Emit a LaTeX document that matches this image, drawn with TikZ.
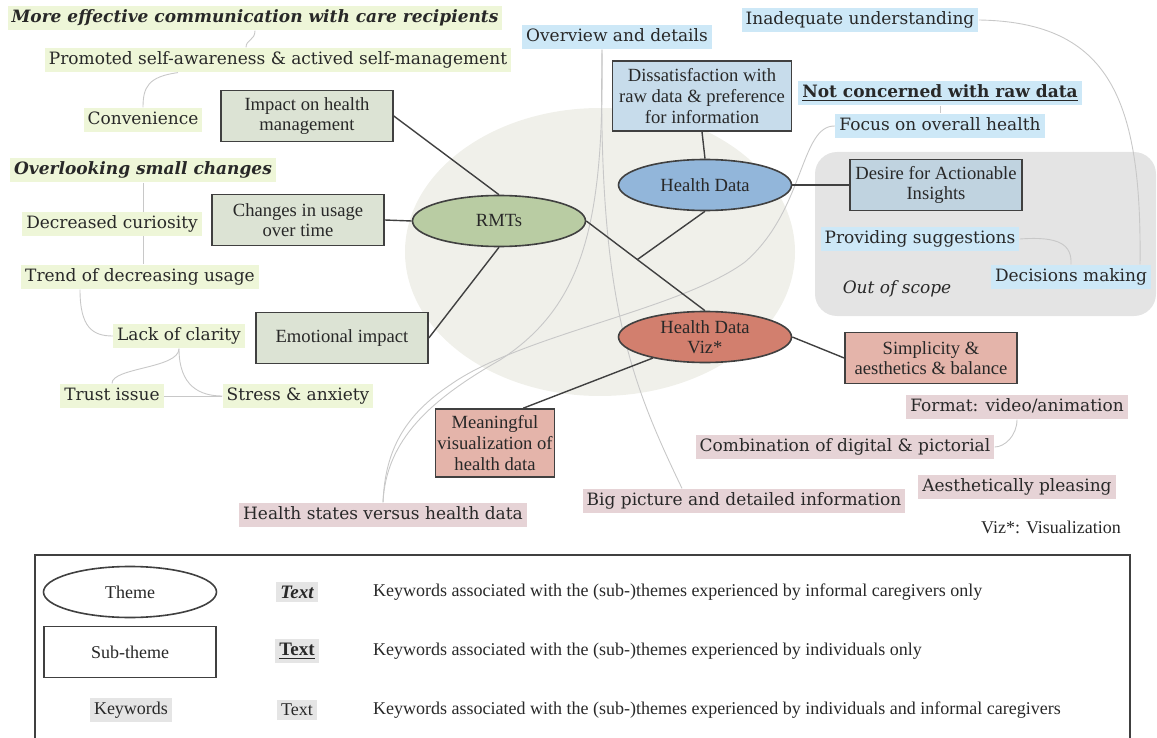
\documentclass[tikz,border=0pt]{standalone}
\usepackage{fontspec}
\setmainfont{Liberation Serif}
\newfontfamily\kwfont{DejaVu Serif}
\usetikzlibrary{shapes.geometric,calc}

\definecolor{inkgray}{RGB}{40,40,40}
\definecolor{edgegray}{RGB}{64,64,64}
\definecolor{threadgray}{RGB}{200,200,200}
\definecolor{cloudgray}{RGB}{240,240,234}
\definecolor{scopegray}{RGB}{228,228,228}
\definecolor{themegreen}{RGB}{185,204,163}
\definecolor{themeblue}{RGB}{146,182,218}
\definecolor{themered}{RGB}{210,127,110}
\definecolor{subgreen}{RGB}{220,227,212}
\definecolor{subblue}{RGB}{199,220,235}
\definecolor{subred}{RGB}{228,180,170}
\definecolor{kwgreenbg}{RGB}{238,246,216}
\definecolor{kwbluebg}{RGB}{205,232,247}
\definecolor{kwpinkbg}{RGB}{230,211,214}
\definecolor{kwgraybg}{RGB}{229,229,229}

\pgfdeclarelayer{back}
\pgfdeclarelayer{links}
\pgfsetlayers{back,links,main}

\begin{document}
\begin{tikzpicture}[
    x=0.5pt, y=-0.5pt,
    theme/.style={ellipse, draw=edgegray, line width=0.8pt, minimum width=86.5pt, minimum height=25.5pt,
        inner sep=0pt, align=center, text=inkgray, font=\fontsize{9.3}{10}\selectfont},
    subtheme/.style={rectangle, draw=edgegray, line width=0.8pt, minimum width=86pt, minimum height=25.5pt,
        inner sep=1pt, align=center, text=inkgray, font=\fontsize{9.3}{10.3}\selectfont},
    kw/.style={inner xsep=2pt, inner ysep=1.5pt, text height=7pt, text depth=2.2pt, text=inkgray,
        font=\kwfont\fontsize{8.5}{10}\selectfont},
    kwbi/.style={kw, font=\kwfont\fontsize{8.5}{10}\selectfont\bfseries\itshape},
    kwgreen/.style={kw, fill=kwgreenbg},
    kwblue/.style={kw, fill=kwbluebg},
    kwpink/.style={kw, fill=kwpinkbg},
    legtext/.style={text=inkgray, font=\fontsize{9}{10}\selectfont},
    link/.style={draw=edgegray, line width=0.7pt},
    thread/.style={draw=threadgray, line width=0.45pt},
]
\useasboundingbox (0,0) rectangle (1157,738);

% themes
\node[theme, fill=themegreen] (rmts) at (499,221) {RMTs};
\node[theme, fill=themeblue] (hd) at (705,185) {Health Data};
\node[theme, fill=themered] (viz) at (705,337) {Health Data\\Viz*};

% sub-themes
\node[subtheme, fill=subgreen] (impact) at (307,116) {Impact on health\\management};
\node[subtheme, fill=subgreen] (changes) at (298,220) {Changes in usage\\over time};
\node[subtheme, fill=subgreen] (emot) at (342,338) {Emotional impact};
\node[subtheme, fill=subblue, minimum width=89.5pt, minimum height=35pt] (dissat) at (702,96)
    {Dissatisfaction with\\raw data \& preference\\for information};
\node[subtheme, fill=subblue!90!gray] (desire) at (936,185) {Desire for Actionable\\Insights};
\node[subtheme, fill=subred] (simpl) at (931,358) {Simplicity \&\\aesthetics \& balance};
\node[subtheme, fill=subred, minimum width=58pt, minimum height=34pt] (meaning) at (495,443)
    {Meaningful\\visualization of\\health data};

% keywords, RMTs
\node[kwgreen, kwbi] (moreeff) at (255,18) {More effective communication with care recipients};
\node[kwgreen] (promoted) at (278,60) {Promoted self-awareness \& actived self-management};
\node[kwgreen] (conv) at (143,120) {Convenience};
\node[kwgreen, kwbi] (overlook) at (143,170) {Overlooking small changes};
\node[kwgreen] (curio) at (112,224) {Decreased curiosity};
\node[kwgreen] (trend) at (140,277) {Trend of decreasing usage};
\node[kwgreen] (lack) at (179,336) {Lack of clarity};
\node[kwgreen] (trust) at (112,396) {Trust issue};
\node[kwgreen] (stress) at (298,396) {Stress \& anxiety};

% keywords, health data
\node[kwblue] (overview) at (617,37) {Overview and details};
\node[kwblue] (inadeq) at (860,20) {Inadequate understanding};
\node[kwblue, font=\kwfont\fontsize{8.5}{10}\selectfont\bfseries] (notconc) at (940,93)
    {\underline{Not concerned with raw data}};
\node[kwblue] (focus) at (940,126) {Focus on overall health};
\node[kwblue] (provid) at (920,239) {Providing suggestions};
\node[kwblue] (decis) at (1071,277) {Decisions making};
\node[text=inkgray, font=\kwfont\fontsize{8.5}{10}\selectfont\itshape] (oos) at (897,289) {Out of scope};

% keywords, visualization
\node[kwpink] (format) at (1017,407) {Format: video/animation};
\node[kwpink] (combo) at (845,447) {Combination of digital \& pictorial};
\node[kwpink] (aesth) at (1017,487) {Aesthetically pleasing};
\node[kwpink] (bigpic) at (744,501) {Big picture and detailed information};
\node[kwpink] (hstates) at (383,515) {Health states versus health data};
\node[legtext, anchor=east] (vizfoot) at (1128,527) {Viz*: Visualization};

\coordinate (hdjoin) at ($(rmts.east)!0.43!(viz.north)$);

\begin{pgfonlayer}{back}
\fill[cloudgray] (600,252) ellipse [x radius=97.5pt, y radius=72pt];
\fill[scopegray, rounded corners=11pt] (815,152) rectangle (1156,316);
\end{pgfonlayer}

\begin{pgfonlayer}{links}
% light threads between keywords
\draw[thread] (moreeff.south) .. controls +(0,10) and +(0,-8) .. ([xshift=-16pt]promoted.north);
\draw[thread] ([xshift=-50pt]promoted.south) .. controls +(-30,4) and +(0,-20) .. (conv.north);
\draw[thread] (overlook.south) -- (overlook.south |- trend.north);
\draw[thread] ([xshift=-30pt]trend.south) .. controls +(0,38) and +(-20,0) .. (lack.west);
\draw[thread] (lack.south) .. controls +(0,20) and +(0,-16) .. (trust.north);
\draw[thread] (lack.south) .. controls +(0,38) and +(-22,0) .. (stress.west);
\draw[thread] (trust.east) -- (stress.west);
\draw[thread] ([xshift=-7.5pt]overview.south) .. controls (598,300) and (630,380) .. ([xshift=-31pt]bigpic.north);
\draw[thread] ([xshift=-7.5pt]overview.south) .. controls (604,220) and (585,305) .. (500,360)
    .. controls (430,400) and (386,440) .. (hstates.north);
\draw[thread] (focus.west) .. controls (800,125) and (805,210) .. (745,262)
    .. controls (680,310) and (520,335) .. (450,385) .. controls (405,415) and (385,450) .. (hstates.north);
\draw[thread] (inadeq.east) .. controls (1110,22) and (1142,100) .. ([xshift=34.5pt]decis.north);
\draw[thread] (provid.east) .. controls (1060,236) and (1072,245) .. (decis.north);
\draw[thread] (notconc.south) -- (focus.north);
\draw[thread] (format.south) .. controls +(0,16) and +(10,0) .. (combo.east);

% theme links
\draw[link] (rmts.north) -- (impact.east);
\draw[link] (rmts.west) -- (changes.east);
\draw[link] (rmts.south) -- (emot.east);
\draw[link] (rmts.east) -- (viz.north);
\draw[link] (hd.south) -- (hdjoin);
\draw[link] (hd.north) -- (dissat.south);
\draw[link] (hd.east) -- (desire.west);
\draw[link] (viz.east) -- (simpl.west);
\draw[link] (viz.202) -- (meaning.51);
\end{pgfonlayer}

% legend
\draw[edgegray, line width=0.7pt] (35,740) -- (35,555) -- (1130,555) -- (1130,740);
\node[theme, fill=white, legtext] (legtheme) at (130,592) {Theme};
\node[subtheme, fill=white, legtext] (legsub) at (130,652) {Sub-theme};
\node[legtext, fill=kwgraybg, inner sep=2pt] (legkw) at (131,710) {Keywords};
\node[legtext, fill=kwgraybg, inner sep=2pt, font=\fontsize{9.5}{10}\selectfont\bfseries\itshape] (legbi) at (297,592) {Text};
\node[legtext, fill=kwgraybg, inner sep=2pt, font=\fontsize{9.5}{10}\selectfont\bfseries] (legbu) at (297,651) {\underline{Text}};
\node[legtext, fill=kwgraybg, inner sep=2pt] (legpl) at (297,710) {Text};
\node[legtext, anchor=west] (legd1) at (366,592) {Keywords associated with the (sub-)themes experienced by informal caregivers only};
\node[legtext, anchor=west] (legd2) at (366,651) {Keywords associated with the (sub-)themes experienced by individuals only};
\node[legtext, anchor=west] (legd3) at (366,710) {Keywords associated with the (sub-)themes experienced by individuals and informal caregivers};

\end{tikzpicture}
\end{document}
